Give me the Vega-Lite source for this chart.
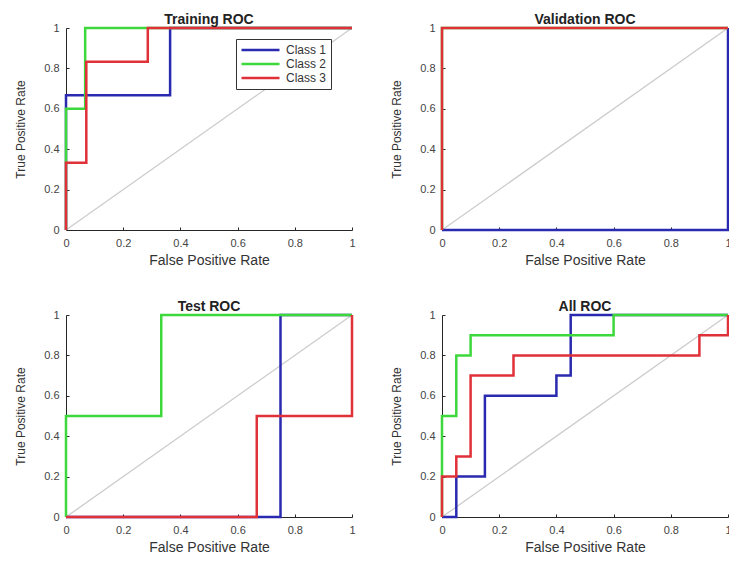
{
  "$schema": "https://vega.github.io/schema/vega-lite/v6.json",
  "background": "white",
  "padding": {"left": 14, "top": 13, "right": 0, "bottom": 0},
  "bounds": "flush",
  "columns": 2,
  "spacing": {"row": 85, "column": 90},
  "config": {
    "font": "Liberation Sans",
    "view": {"stroke": null},
    "axis": {
      "grid": false,
      "domainColor": "#262626",
      "tickColor": "#262626",
      "tickSize": -3,
      "labelColor": "#444444",
      "labelFontSize": 11,
      "labelFlush": false,
      "labelOverlap": false,
      "titleColor": "#333333",
      "titleFontWeight": "normal"
    },
    "axisX": {"labelPadding": 10, "titleFontSize": 14, "titlePadding": 5},
    "axisY": {"labelPadding": 10, "titleFontSize": 12, "titlePadding": 16},
    "title": {"fontSize": 14, "fontWeight": "bold", "color": "#222222", "offset": -5, "anchor": "middle"},
    "line": {"strokeWidth": 2.5}
  },
  "datasets": {
    "diag": [{"fpr": 0, "tpr": 0}, {"fpr": 1, "tpr": 1}],
    "roc": [
      {"panel": "Training", "cls": "Class 1", "i": 0, "fpr": 0, "tpr": 0},
      {"panel": "Training", "cls": "Class 1", "i": 1, "fpr": 0, "tpr": 0.667},
      {"panel": "Training", "cls": "Class 1", "i": 2, "fpr": 0.364, "tpr": 0.667},
      {"panel": "Training", "cls": "Class 1", "i": 3, "fpr": 0.364, "tpr": 1},
      {"panel": "Training", "cls": "Class 1", "i": 4, "fpr": 1, "tpr": 1},
      {"panel": "Training", "cls": "Class 2", "i": 0, "fpr": 0, "tpr": 0},
      {"panel": "Training", "cls": "Class 2", "i": 1, "fpr": 0, "tpr": 0.6},
      {"panel": "Training", "cls": "Class 2", "i": 2, "fpr": 0.067, "tpr": 0.6},
      {"panel": "Training", "cls": "Class 2", "i": 3, "fpr": 0.067, "tpr": 1},
      {"panel": "Training", "cls": "Class 2", "i": 4, "fpr": 1, "tpr": 1},
      {"panel": "Training", "cls": "Class 3", "i": 0, "fpr": 0, "tpr": 0},
      {"panel": "Training", "cls": "Class 3", "i": 1, "fpr": 0, "tpr": 0.333},
      {"panel": "Training", "cls": "Class 3", "i": 2, "fpr": 0.071, "tpr": 0.333},
      {"panel": "Training", "cls": "Class 3", "i": 3, "fpr": 0.071, "tpr": 0.833},
      {"panel": "Training", "cls": "Class 3", "i": 4, "fpr": 0.286, "tpr": 0.833},
      {"panel": "Training", "cls": "Class 3", "i": 5, "fpr": 0.286, "tpr": 1},
      {"panel": "Training", "cls": "Class 3", "i": 6, "fpr": 1, "tpr": 1},
      {"panel": "Validation", "cls": "Class 1", "i": 0, "fpr": 0, "tpr": 0},
      {"panel": "Validation", "cls": "Class 1", "i": 1, "fpr": 1, "tpr": 0},
      {"panel": "Validation", "cls": "Class 1", "i": 2, "fpr": 1, "tpr": 1},
      {"panel": "Validation", "cls": "Class 2", "i": 0, "fpr": 0, "tpr": 0},
      {"panel": "Validation", "cls": "Class 2", "i": 1, "fpr": 0, "tpr": 1},
      {"panel": "Validation", "cls": "Class 2", "i": 2, "fpr": 1, "tpr": 1},
      {"panel": "Validation", "cls": "Class 3", "i": 0, "fpr": 0, "tpr": 0},
      {"panel": "Validation", "cls": "Class 3", "i": 1, "fpr": 0, "tpr": 1},
      {"panel": "Validation", "cls": "Class 3", "i": 2, "fpr": 1, "tpr": 1},
      {"panel": "Test", "cls": "Class 1", "i": 0, "fpr": 0, "tpr": 0},
      {"panel": "Test", "cls": "Class 1", "i": 1, "fpr": 0.75, "tpr": 0},
      {"panel": "Test", "cls": "Class 1", "i": 2, "fpr": 0.75, "tpr": 1},
      {"panel": "Test", "cls": "Class 1", "i": 3, "fpr": 1, "tpr": 1},
      {"panel": "Test", "cls": "Class 2", "i": 0, "fpr": 0, "tpr": 0},
      {"panel": "Test", "cls": "Class 2", "i": 1, "fpr": 0, "tpr": 0.5},
      {"panel": "Test", "cls": "Class 2", "i": 2, "fpr": 0.333, "tpr": 0.5},
      {"panel": "Test", "cls": "Class 2", "i": 3, "fpr": 0.333, "tpr": 1},
      {"panel": "Test", "cls": "Class 2", "i": 4, "fpr": 1, "tpr": 1},
      {"panel": "Test", "cls": "Class 3", "i": 0, "fpr": 0, "tpr": 0},
      {"panel": "Test", "cls": "Class 3", "i": 1, "fpr": 0.667, "tpr": 0},
      {"panel": "Test", "cls": "Class 3", "i": 2, "fpr": 0.667, "tpr": 0.5},
      {"panel": "Test", "cls": "Class 3", "i": 3, "fpr": 1, "tpr": 0.5},
      {"panel": "Test", "cls": "Class 3", "i": 4, "fpr": 1, "tpr": 1},
      {"panel": "All", "cls": "Class 1", "i": 0, "fpr": 0, "tpr": 0},
      {"panel": "All", "cls": "Class 1", "i": 1, "fpr": 0.05, "tpr": 0},
      {"panel": "All", "cls": "Class 1", "i": 2, "fpr": 0.05, "tpr": 0.2},
      {"panel": "All", "cls": "Class 1", "i": 3, "fpr": 0.15, "tpr": 0.2},
      {"panel": "All", "cls": "Class 1", "i": 4, "fpr": 0.15, "tpr": 0.6},
      {"panel": "All", "cls": "Class 1", "i": 5, "fpr": 0.4, "tpr": 0.6},
      {"panel": "All", "cls": "Class 1", "i": 6, "fpr": 0.4, "tpr": 0.7},
      {"panel": "All", "cls": "Class 1", "i": 7, "fpr": 0.45, "tpr": 0.7},
      {"panel": "All", "cls": "Class 1", "i": 8, "fpr": 0.45, "tpr": 1},
      {"panel": "All", "cls": "Class 1", "i": 9, "fpr": 1, "tpr": 1},
      {"panel": "All", "cls": "Class 2", "i": 0, "fpr": 0, "tpr": 0},
      {"panel": "All", "cls": "Class 2", "i": 1, "fpr": 0, "tpr": 0.5},
      {"panel": "All", "cls": "Class 2", "i": 2, "fpr": 0.05, "tpr": 0.5},
      {"panel": "All", "cls": "Class 2", "i": 3, "fpr": 0.05, "tpr": 0.8},
      {"panel": "All", "cls": "Class 2", "i": 4, "fpr": 0.1, "tpr": 0.8},
      {"panel": "All", "cls": "Class 2", "i": 5, "fpr": 0.1, "tpr": 0.9},
      {"panel": "All", "cls": "Class 2", "i": 6, "fpr": 0.6, "tpr": 0.9},
      {"panel": "All", "cls": "Class 2", "i": 7, "fpr": 0.6, "tpr": 1},
      {"panel": "All", "cls": "Class 2", "i": 8, "fpr": 1, "tpr": 1},
      {"panel": "All", "cls": "Class 3", "i": 0, "fpr": 0, "tpr": 0},
      {"panel": "All", "cls": "Class 3", "i": 1, "fpr": 0, "tpr": 0.2},
      {"panel": "All", "cls": "Class 3", "i": 2, "fpr": 0.05, "tpr": 0.2},
      {"panel": "All", "cls": "Class 3", "i": 3, "fpr": 0.05, "tpr": 0.3},
      {"panel": "All", "cls": "Class 3", "i": 4, "fpr": 0.1, "tpr": 0.3},
      {"panel": "All", "cls": "Class 3", "i": 5, "fpr": 0.1, "tpr": 0.7},
      {"panel": "All", "cls": "Class 3", "i": 6, "fpr": 0.25, "tpr": 0.7},
      {"panel": "All", "cls": "Class 3", "i": 7, "fpr": 0.25, "tpr": 0.8},
      {"panel": "All", "cls": "Class 3", "i": 8, "fpr": 0.9, "tpr": 0.8},
      {"panel": "All", "cls": "Class 3", "i": 9, "fpr": 0.9, "tpr": 0.9},
      {"panel": "All", "cls": "Class 3", "i": 10, "fpr": 1, "tpr": 0.9},
      {"panel": "All", "cls": "Class 3", "i": 11, "fpr": 1, "tpr": 1}
    ]
  },
  "resolve": {"scale": {"color": "independent"}, "legend": {"color": "independent"}},
  "concat": [
    {
      "title": "Training ROC",
      "width": 286, "height": 202,
      "layer": [
        {
          "data": {"name": "diag"},
          "mark": {"type": "line", "color": "#cccccc", "strokeWidth": 1.3},
          "encoding": {
            "x": {"field": "fpr", "type": "quantitative", "title": "False Positive Rate", "scale": {"domain": [0, 1], "nice": false, "zero": false}, "axis": {"values": [0, 0.2, 0.4, 0.6, 0.8, 1], "format": "~g"}},
            "y": {"field": "tpr", "type": "quantitative", "title": "True Positive Rate", "scale": {"domain": [0, 1], "nice": false, "zero": false}, "axis": {"values": [0, 0.2, 0.4, 0.6, 0.8, 1], "format": "~g"}}
          }
        },
        {
          "data": {"name": "roc"},
          "transform": [{"filter": "datum.panel === 'Training'"}],
          "mark": {"type": "line"},
          "encoding": {
            "x": {"field": "fpr", "type": "quantitative"},
            "y": {"field": "tpr", "type": "quantitative"},
            "order": {"field": "i", "type": "quantitative"},
            "color": {"field": "cls", "type": "nominal", "scale": {"domain": ["Class 1", "Class 2", "Class 3"], "range": ["#2a2ab0", "#3cd83c", "#e03038"]},
              "legend": {"title": null, "orient": "none", "legendX": 170, "legendY": 11, "symbolType": "stroke", "symbolSize": 1444, "symbolStrokeWidth": 2, "clipHeight": 14, "rowPadding": 0, "labelFontSize": 12, "labelOffset": 5, "labelColor": "#333333", "padding": 4, "strokeColor": "#333333", "fillColor": "white"}}
          }
        }
      ]
    },
    {
      "title": "Validation ROC",
      "width": 286, "height": 202,
      "layer": [
        {
          "data": {"name": "diag"},
          "mark": {"type": "line", "color": "#cccccc", "strokeWidth": 1.3},
          "encoding": {
            "x": {"field": "fpr", "type": "quantitative", "title": "False Positive Rate", "scale": {"domain": [0, 1], "nice": false, "zero": false}, "axis": {"values": [0, 0.2, 0.4, 0.6, 0.8, 1], "format": "~g"}},
            "y": {"field": "tpr", "type": "quantitative", "title": "True Positive Rate", "scale": {"domain": [0, 1], "nice": false, "zero": false}, "axis": {"values": [0, 0.2, 0.4, 0.6, 0.8, 1], "format": "~g"}}
          }
        },
        {
          "data": {"name": "roc"},
          "transform": [{"filter": "datum.panel === 'Validation'"}],
          "mark": {"type": "line"},
          "encoding": {
            "x": {"field": "fpr", "type": "quantitative"},
            "y": {"field": "tpr", "type": "quantitative"},
            "order": {"field": "i", "type": "quantitative"},
            "color": {"field": "cls", "type": "nominal", "scale": {"domain": ["Class 1", "Class 2", "Class 3"], "range": ["#2a2ab0", "#3cd83c", "#e03038"]}, "legend": null}
          }
        }
      ]
    },
    {
      "title": "Test ROC",
      "width": 286, "height": 202,
      "layer": [
        {
          "data": {"name": "diag"},
          "mark": {"type": "line", "color": "#cccccc", "strokeWidth": 1.3},
          "encoding": {
            "x": {"field": "fpr", "type": "quantitative", "title": "False Positive Rate", "scale": {"domain": [0, 1], "nice": false, "zero": false}, "axis": {"values": [0, 0.2, 0.4, 0.6, 0.8, 1], "format": "~g"}},
            "y": {"field": "tpr", "type": "quantitative", "title": "True Positive Rate", "scale": {"domain": [0, 1], "nice": false, "zero": false}, "axis": {"values": [0, 0.2, 0.4, 0.6, 0.8, 1], "format": "~g"}}
          }
        },
        {
          "data": {"name": "roc"},
          "transform": [{"filter": "datum.panel === 'Test'"}],
          "mark": {"type": "line"},
          "encoding": {
            "x": {"field": "fpr", "type": "quantitative"},
            "y": {"field": "tpr", "type": "quantitative"},
            "order": {"field": "i", "type": "quantitative"},
            "color": {"field": "cls", "type": "nominal", "scale": {"domain": ["Class 1", "Class 2", "Class 3"], "range": ["#2a2ab0", "#3cd83c", "#e03038"]}, "legend": null}
          }
        }
      ]
    },
    {
      "title": "All ROC",
      "width": 286, "height": 202,
      "layer": [
        {
          "data": {"name": "diag"},
          "mark": {"type": "line", "color": "#cccccc", "strokeWidth": 1.3},
          "encoding": {
            "x": {"field": "fpr", "type": "quantitative", "title": "False Positive Rate", "scale": {"domain": [0, 1], "nice": false, "zero": false}, "axis": {"values": [0, 0.2, 0.4, 0.6, 0.8, 1], "format": "~g"}},
            "y": {"field": "tpr", "type": "quantitative", "title": "True Positive Rate", "scale": {"domain": [0, 1], "nice": false, "zero": false}, "axis": {"values": [0, 0.2, 0.4, 0.6, 0.8, 1], "format": "~g"}}
          }
        },
        {
          "data": {"name": "roc"},
          "transform": [{"filter": "datum.panel === 'All'"}],
          "mark": {"type": "line"},
          "encoding": {
            "x": {"field": "fpr", "type": "quantitative"},
            "y": {"field": "tpr", "type": "quantitative"},
            "order": {"field": "i", "type": "quantitative"},
            "color": {"field": "cls", "type": "nominal", "scale": {"domain": ["Class 1", "Class 2", "Class 3"], "range": ["#2a2ab0", "#3cd83c", "#e03038"]}, "legend": null}
          }
        }
      ]
    }
  ]
}
